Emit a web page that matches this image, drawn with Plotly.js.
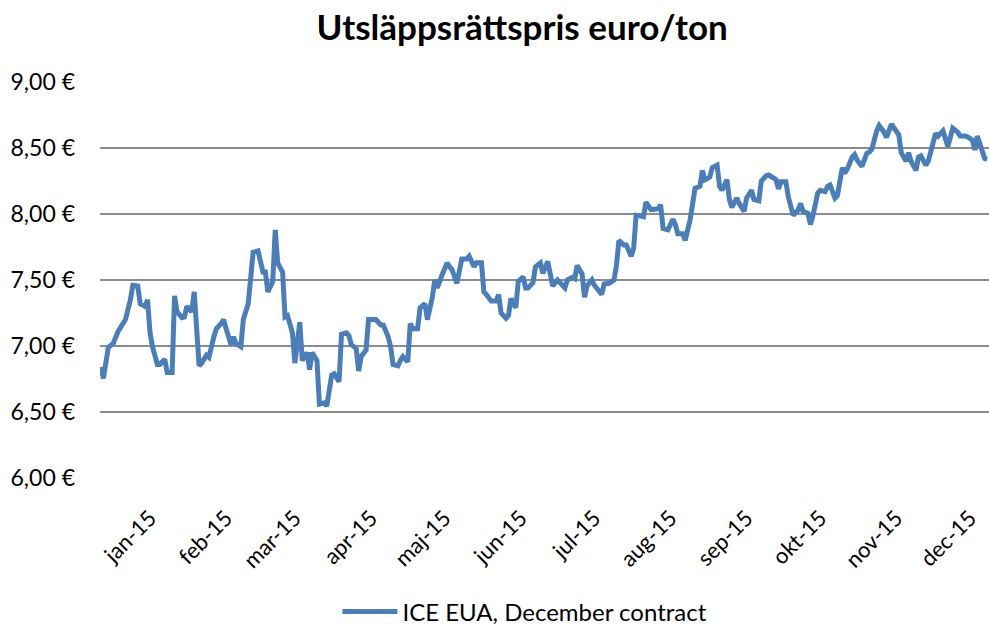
<!DOCTYPE html>
<html>
<head>
<meta charset="utf-8">
<script src="https://cdn.plot.ly/plotly-3.0.1.min.js"></script>
<style>
  html, body { margin: 0; padding: 0; background: #ffffff; }
  #chart { width: 989px; height: 627px; }
</style>
</head>
<body>
<div id="chart"></div>
<script>
// ---- Data ----
const seriesName = "ICE EUA, December contract";
const chartTitle = "Utsläppsrättspris euro/ton";

const dates = [
  "2014-12-12","2014-12-13","2014-12-15","2014-12-17","2014-12-19","2014-12-21","2014-12-22","2014-12-24","2014-12-25","2014-12-27",
  "2014-12-28","2014-12-30","2014-12-31","2015-01-01","2015-01-02","2015-01-04","2015-01-05","2015-01-07","2015-01-08","2015-01-10",
  "2015-01-11","2015-01-12","2015-01-14","2015-01-15","2015-01-16","2015-01-18","2015-01-19","2015-01-21","2015-01-22","2015-01-24",
  "2015-01-25","2015-01-27","2015-01-28","2015-01-30","2015-01-31","2015-02-01","2015-02-03","2015-02-04","2015-02-05","2015-02-07",
  "2015-02-08","2015-02-10","2015-02-11","2015-02-12","2015-02-14","2015-02-16","2015-02-17","2015-02-18","2015-02-20","2015-02-21",
  "2015-02-22","2015-02-24","2015-02-25","2015-02-26","2015-02-28","2015-03-01","2015-03-03","2015-03-04","2015-03-06","2015-03-07",
  "2015-03-08","2015-03-10","2015-03-11","2015-03-13","2015-03-14","2015-03-16","2015-03-17","2015-03-19","2015-03-20","2015-03-22",
  "2015-03-23","2015-03-24","2015-03-26","2015-03-27","2015-03-28","2015-03-30","2015-03-31","2015-04-02","2015-04-03","2015-04-05",
  "2015-04-06","2015-04-08","2015-04-09","2015-04-10","2015-04-12","2015-04-13","2015-04-14","2015-04-16","2015-04-17","2015-04-18",
  "2015-04-20","2015-04-21","2015-04-23","2015-04-24","2015-04-26","2015-04-27","2015-04-28","2015-04-30","2015-05-02","2015-05-03",
  "2015-05-04","2015-05-06","2015-05-07","2015-05-08","2015-05-10","2015-05-11","2015-05-13","2015-05-14","2015-05-16","2015-05-17",
  "2015-05-18","2015-05-20","2015-05-22","2015-05-23","2015-05-24","2015-05-26","2015-05-27","2015-05-28","2015-05-30","2015-05-31",
  "2015-06-02","2015-06-03","2015-06-04","2015-06-06","2015-06-07","2015-06-09","2015-06-10","2015-06-12","2015-06-13","2015-06-14",
  "2015-06-16","2015-06-17","2015-06-19","2015-06-20","2015-06-22","2015-06-23","2015-06-24","2015-06-26","2015-06-27","2015-06-28",
  "2015-06-30","2015-07-01","2015-07-02","2015-07-04","2015-07-05","2015-07-07","2015-07-09","2015-07-10","2015-07-11","2015-07-13",
  "2015-07-14","2015-07-16","2015-07-17","2015-07-18","2015-07-20","2015-07-21","2015-07-22","2015-07-24","2015-07-25","2015-07-27",
  "2015-07-28","2015-07-29","2015-07-31","2015-08-02","2015-08-03","2015-08-04","2015-08-06","2015-08-07","2015-08-09","2015-08-10",
  "2015-08-11","2015-08-13","2015-08-14","2015-08-15","2015-08-17","2015-08-18","2015-08-20","2015-08-21","2015-08-22","2015-08-24",
  "2015-08-25","2015-08-26","2015-08-28","2015-08-29","2015-08-31","2015-09-01","2015-09-03","2015-09-04","2015-09-06","2015-09-07",
  "2015-09-09","2015-09-10","2015-09-11","2015-09-13","2015-09-14","2015-09-15","2015-09-17","2015-09-18","2015-09-20","2015-09-22",
  "2015-09-23","2015-09-24","2015-09-26","2015-09-27","2015-09-28","2015-09-30","2015-10-01","2015-10-03","2015-10-04","2015-10-05",
  "2015-10-07","2015-10-08","2015-10-10","2015-10-11","2015-10-12","2015-10-14","2015-10-15","2015-10-16","2015-10-18","2015-10-20",
  "2015-10-21","2015-10-22","2015-10-24","2015-10-25","2015-10-27","2015-10-28","2015-10-30","2015-10-31","2015-11-02","2015-11-03",
  "2015-11-05","2015-11-06","2015-11-07","2015-11-09","2015-11-10","2015-11-11","2015-11-13","2015-11-14","2015-11-16","2015-11-17",
  "2015-11-18","2015-11-20","2015-11-22","2015-11-23","2015-11-24","2015-11-26","2015-11-27","2015-11-29","2015-11-30","2015-12-02",
  "2015-12-03","2015-12-04","2015-12-05","2015-12-07","2015-12-08"
];

const prices = [
  6.84,6.755,6.99,7.02,7.11,7.16,7.20,7.35,7.46,7.455,
  7.32,7.30,7.35,7.10,6.995,6.86,6.86,6.90,6.80,6.80,
  7.38,7.26,7.215,7.22,7.30,7.26,7.41,6.85,6.87,6.93,
  6.915,7.07,7.13,7.17,7.20,7.13,7.01,7.07,7.02,6.995,
  7.20,7.32,7.49,7.71,7.72,7.56,7.56,7.41,7.49,7.88,
  7.63,7.56,7.22,7.23,7.10,6.87,7.18,6.89,6.95,6.82,
  6.95,6.89,6.56,6.57,6.545,6.78,6.79,6.73,7.09,7.10,
  7.08,7.01,6.98,6.81,6.92,6.97,7.20,7.20,7.20,7.16,
  7.16,7.07,6.995,6.86,6.85,6.89,6.92,6.88,7.17,7.13,
  7.13,7.29,7.32,7.20,7.37,7.50,7.44,7.54,7.63,7.60,
  7.58,7.475,7.58,7.66,7.66,7.68,7.60,7.63,7.63,7.41,
  7.39,7.34,7.34,7.39,7.25,7.21,7.23,7.36,7.29,7.49,
  7.525,7.44,7.44,7.48,7.60,7.63,7.55,7.64,7.55,7.455,
  7.50,7.475,7.44,7.50,7.52,7.51,7.61,7.545,7.37,7.455,
  7.50,7.46,7.44,7.39,7.47,7.475,7.50,7.61,7.80,7.765,
  7.765,7.68,7.74,7.99,7.985,7.98,8.09,8.035,8.035,8.04,
  8.07,7.89,7.88,7.96,7.92,7.85,7.85,7.80,7.955,8.11,
  8.195,8.21,8.33,8.26,8.28,8.35,8.37,8.21,8.18,8.26,
  8.11,8.05,8.12,8.08,8.02,8.12,8.18,8.11,8.10,8.25,
  8.29,8.295,8.28,8.26,8.19,8.245,8.245,8.13,7.99,8.03,
  8.08,8.02,8.005,7.92,7.985,8.16,8.18,8.17,8.21,8.22,
  8.12,8.14,8.35,8.31,8.34,8.43,8.45,8.41,8.36,8.46,
  8.47,8.49,8.63,8.67,8.62,8.58,8.68,8.65,8.60,8.465,
  8.40,8.465,8.40,8.33,8.43,8.44,8.37,8.40,8.535,8.61,
  8.59,8.63,8.51,8.57,8.65,8.62,8.59,8.59,8.585,8.56,
  8.485,8.59,8.535,8.42,8.415
];

const monthTickDates = ["2015-01-01","2015-02-01","2015-03-01","2015-04-01","2015-05-01","2015-06-01",
                        "2015-07-01","2015-08-01","2015-09-01","2015-10-01","2015-11-01","2015-12-01"];
const monthTickLabels = ["jan-15","feb-15","mar-15","apr-15","maj-15","jun-15",
                         "jul-15","aug-15","sep-15","okt-15","nov-15","dec-15"];

const yTickValues = [6.0, 6.5, 7.0, 7.5, 8.0, 8.5, 9.0];
const yTickLabels = ["6,00 €","6,50 €","7,00 €","7,50 €","8,00 €","8,50 €","9,00 €"];

// ---- Chart ----
const FONT = "Lato, 'Open Sans', sans-serif";

const trace = {
  type: "scatter",
  mode: "lines",
  name: seriesName,
  x: dates,
  y: prices,
  line: { color: "#4A7EBB", width: 5, shape: "linear" },
  hoverinfo: "x+y"
};

const layout = {
  width: 989,
  height: 627,
  paper_bgcolor: "#ffffff",
  plot_bgcolor: "#ffffff",
  margin: { l: 100, r: 0, t: 82, b: 149, autoexpand: false },
  font: { family: FONT, color: "#000000", size: 22 },
  title: {
    text: "<b>" + chartTitle + "</b>",
    font: { family: FONT, size: 35, color: "#000000" },
    xref: "container", x: 0.528, xanchor: "center",
    yref: "container", y: 0.955, yanchor: "middle"
  },
  showlegend: true,
  legend: {
    orientation: "h",
    xref: "paper", x: 0.478, xanchor: "center",
    yref: "container", y: 0.024, yanchor: "middle",
    font: { family: FONT, size: 24, color: "#000000" },
    itemwidth: 55
  },
  xaxis: {
    type: "date",
    range: ["2014-12-11 15:00", "2015-12-08 18:00"],
    tickmode: "array",
    tickvals: monthTickDates,
    ticktext: monthTickLabels,
    tickangle: -45,
    ticks: "",
    showgrid: false,
    showline: false,
    zeroline: false,
    automargin: false,
    ticklabelstandoff: 22,
    tickfont: { family: FONT, size: 22, color: "#000000" },
    fixedrange: true
  },
  yaxis: {
    range: [6, 9],
    tickmode: "array",
    tickvals: yTickValues,
    ticktext: yTickLabels,
    showgrid: true,
    gridcolor: "#8C8C8C",
    gridwidth: 2,
    zeroline: false,
    showline: false,
    ticks: "",
    automargin: false,
    ticklabelstandoff: 24,
    tickfont: { family: FONT, size: 23, color: "#000000" },
    fixedrange: true
  }
};

Plotly.newPlot("chart", [trace], layout, { displayModeBar: false, staticPlot: true });
</script>
</body>
</html>
